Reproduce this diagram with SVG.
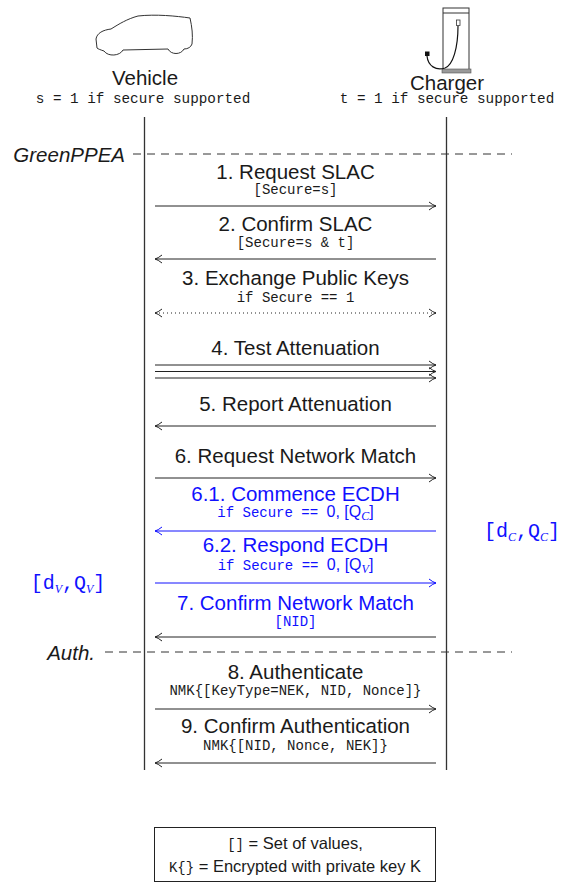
<svg xmlns="http://www.w3.org/2000/svg" width="563" height="882" viewBox="0 0 563 882">
  <style>
    .lbl { font-family: "Liberation Sans", Arial, sans-serif; font-size: 20.5px; fill: #1a1a1a; text-anchor: middle; }
    .mono { font-family: "Liberation Mono", "DejaVu Sans Mono", monospace; font-size: 14px; fill: #1a1a1a; text-anchor: middle; }
    .hmono { font-family: "Liberation Mono", "DejaVu Sans Mono", monospace; font-size: 14.3px; fill: #1a1a1a; text-anchor: middle; }
    .sans { font-family: "Liberation Sans", Arial, sans-serif; }
    .sub { font-family: "Liberation Serif", serif; font-style: italic; font-size: 12px; }
    .blue { fill: #1010ff; }
    .ital { font-family: "Liberation Sans", Arial, sans-serif; font-style: italic; font-size: 20.5px; fill: #1a1a1a; text-anchor: end; }
    .life { stroke: #333; stroke-width: 1.3; fill: none; }
    .dash { stroke: #333; stroke-width: 1; stroke-dasharray: 8 6; fill: none; }
    .msg { stroke: #222; stroke-width: 1; fill: none; }
    .msgb { stroke: #1010ff; stroke-width: 1; fill: none; }
    .keys { font-family: "Liberation Mono", monospace; font-size: 20px; text-anchor: middle; }
    .legend { font-family: "Liberation Sans", Arial, sans-serif; font-size: 16.5px; fill: #1a1a1a; text-anchor: middle; }
  </style>
  <defs>
    <marker id="head" viewBox="0 0 10 10" refX="9" refY="5" markerWidth="10" markerHeight="10" markerUnits="userSpaceOnUse" orient="auto-start-reverse">
      <path d="M2,1 Q6,4.2 9,5 Q6,5.8 2,9" fill="none" stroke="#222" stroke-width="1"/>
    </marker>
    <marker id="headb" viewBox="0 0 10 10" refX="9" refY="5" markerWidth="10" markerHeight="10" markerUnits="userSpaceOnUse" orient="auto-start-reverse">
      <path d="M2,1 Q6,4.2 9,5 Q6,5.8 2,9" fill="none" stroke="#1010ff" stroke-width="1"/>
    </marker>
  </defs>

  <!-- Vehicle participant -->
  <g id="vehicle">
    <path d="M97,48 L96,39 C97,33 103,30 111,29 C119,24 127,19 138,16 C156,14 176,16 190,18 C192,27 193,35 192,44 C191,47 188,49 184,49 C181,55 171,55 168,49 L123,50 C120,56 108,57 104,51 C101,50 98,49 97,48 Z" fill="none" stroke="#333" stroke-width="1"/>
    <text class="lbl" x="145" y="85">Vehicle</text>
    <text class="hmono" x="143" y="103">s = 1 if secure supported</text>
  </g>

  <!-- Charger participant -->
  <g id="charger">
    <rect x="443" y="8" width="26" height="63" fill="#fff" stroke="#333" stroke-width="1"/>
    <line x1="443" y1="13" x2="469" y2="13" stroke="#333" stroke-width="1"/>
    <rect x="442" y="69" width="29" height="4" fill="#999" stroke="#555" stroke-width="0.6"/>
    <rect x="456.5" y="20" width="3.5" height="5.5" fill="#fff" stroke="#333" stroke-width="0.8"/>
    <path d="M458,26 C458,48 453,65 445,68 C436,71 428,66 427,56" fill="none" stroke="#111" stroke-width="1.2"/>
    <rect x="425" y="51.5" width="4.5" height="4.5" fill="#111"/>
    <text class="lbl" x="447" y="90">Charger</text>
    <text class="hmono" x="447" y="103">t = 1 if secure supported</text>
  </g>

  <!-- Lifelines -->
  <g id="lifelines">
    <line class="life" x1="144.5" y1="117" x2="144.5" y2="770"/>
    <line class="life" x1="446.5" y1="117" x2="446.5" y2="770"/>
  </g>

  <!-- Phase separators -->
  <g id="phase-greenppea">
    <text class="ital" x="125" y="162">GreenPPEA</text>
    <line class="dash" x1="133" y1="154" x2="512" y2="154"/>
  </g>
  <g id="phase-auth">
    <text class="ital" x="95" y="660">Auth.</text>
    <line class="dash" x1="105" y1="652" x2="512" y2="652"/>
  </g>

  <!-- Key material -->
  <g id="keys-vehicle">
    <text class="keys blue" x="68" y="589">[d<tspan class="sub" font-size="15" dy="4">V</tspan><tspan dy="-4">,Q</tspan><tspan class="sub" font-size="15" dy="4">V</tspan><tspan dy="-4">]</tspan></text>
  </g>
  <g id="keys-charger">
    <text class="keys blue" x="522" y="537">[d<tspan class="sub" font-size="15" dy="4">C</tspan><tspan dy="-4">,Q</tspan><tspan class="sub" font-size="15" dy="4">C</tspan><tspan dy="-4">]</tspan></text>
  </g>

  <!-- Message labels -->
  <g id="labels">
    <text class="lbl" x="295.5" y="179">1. Request SLAC</text>
    <text class="mono" x="295.5" y="193.5">[Secure=s]</text>

    <text class="lbl" x="295.5" y="231">2. Confirm SLAC</text>
    <text class="mono" x="295.5" y="246.5">[Secure=s &amp; t]</text>

    <text class="lbl" x="295.5" y="285">3. Exchange Public Keys</text>
    <text class="mono" x="295.5" y="301.5">if Secure == 1</text>

    <text class="lbl" x="295.5" y="355">4. Test Attenuation</text>

    <text class="lbl" x="295.5" y="411">5. Report Attenuation</text>

    <text class="lbl" x="295.5" y="463">6. Request Network Match</text>

    <text class="lbl blue" x="295.5" y="501">6.1. Commence ECDH</text>
    <text class="mono blue" x="295.5" y="517">if Secure == <tspan class="sans" font-size="16">0, [Q</tspan><tspan class="sub" font-size="13" dy="3">C</tspan><tspan class="sans" font-size="16" dy="-3">]</tspan></text>

    <text class="lbl blue" x="295.5" y="551.5">6.2. Respond ECDH</text>
    <text class="mono blue" x="295.5" y="569.5">if Secure == <tspan class="sans" font-size="16">0, [Q</tspan><tspan class="sub" font-size="13" dy="3">V</tspan><tspan class="sans" font-size="16" dy="-3">]</tspan></text>

    <text class="lbl blue" x="295.5" y="610">7. Confirm Network Match</text>
    <text class="mono blue" x="295.5" y="625.5">[NID]</text>

    <text class="lbl" x="295.5" y="679">8. Authenticate</text>
    <text class="mono" x="295.5" y="694.5">NMK{[KeyType=NEK, NID, Nonce]}</text>

    <text class="lbl" x="295.5" y="733">9. Confirm Authentication</text>
    <text class="mono" x="295.5" y="749.5">NMK{[NID, Nonce, NEK]}</text>
  </g>

  <!-- Message arrows -->
  <g id="connectors">
    <line class="msg" x1="155" y1="206" x2="436" y2="206" marker-end="url(#head)"/>
    <line class="msg" x1="436" y1="259" x2="155" y2="259" marker-end="url(#head)"/>
    <line class="msg" x1="155" y1="313" x2="436" y2="313" stroke-dasharray="1 3" marker-start="url(#head)" marker-end="url(#head)"/>
    <line class="msg" x1="155" y1="365" x2="436" y2="365" stroke="#555" stroke-width="1.3" marker-end="url(#head)"/>
    <line class="msg" x1="155" y1="371.5" x2="436" y2="371.5" marker-end="url(#head)"/>
    <line class="msg" x1="155" y1="378" x2="436" y2="378" marker-end="url(#head)"/>
    <line class="msg" x1="436" y1="426" x2="155" y2="426" marker-end="url(#head)"/>
    <line class="msg" x1="155" y1="478" x2="436" y2="478" marker-end="url(#head)"/>
    <line class="msgb" x1="436" y1="531" x2="155" y2="531" marker-end="url(#headb)"/>
    <line class="msgb" x1="155" y1="583" x2="436" y2="583" marker-end="url(#headb)"/>
    <line class="msg" x1="436" y1="637" x2="155" y2="637" marker-end="url(#head)"/>
    <line class="msg" x1="155" y1="709" x2="436" y2="709" marker-end="url(#head)"/>
    <line class="msg" x1="436" y1="763" x2="155" y2="763" marker-end="url(#head)"/>
  </g>

  <!-- Legend -->
  <g id="legend">
    <rect x="154.5" y="827.5" width="281" height="54" fill="#fff" stroke="#222" stroke-width="1"/>
    <text class="legend" x="295" y="848.5"><tspan font-family="Liberation Mono, monospace" font-size="14">[]</tspan> = Set of values,</text>
    <text class="legend" x="295" y="871.5"><tspan font-family="Liberation Mono, monospace" font-size="14">K{}</tspan> = Encrypted with private key K</text>
  </g>
</svg>
